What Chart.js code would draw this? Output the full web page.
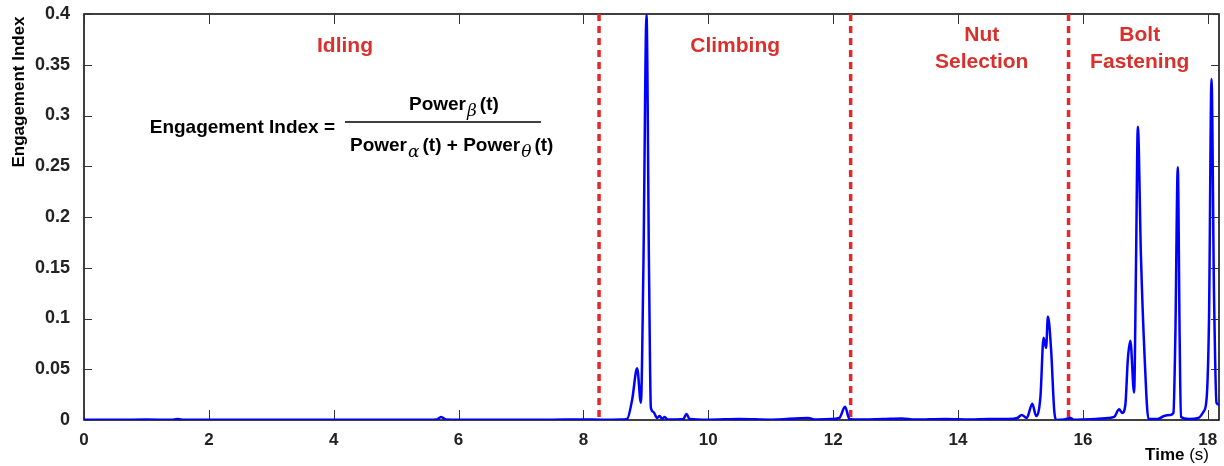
<!DOCTYPE html>
<html>
<head>
<meta charset="utf-8">
<script src="https://cdn.jsdelivr.net/npm/chart.js@4"></script>
<style>
  html, body { margin: 0; padding: 0; background: #fff; }
  #wrap { width: 1224px; height: 466px; }
</style>
</head>
<body>
<div id="wrap"><canvas id="eng"></canvas></div>
<script>
// time (s) and engagement index
const timeValues = [
  0, 0.5, 1.0, 1.4, 1.5, 1.6, 2.0, 2.5, 3.0, 3.5, 4.0, 4.5, 5.0, 5.5, 5.65, 5.72, 5.8, 6.0, 6.5, 7.0, 7.5, 8.0, 8.3, 8.6,
  8.7, 8.78, 8.86, 8.92, 8.96, 9.01, 9.05, 9.08, 9.12, 9.18, 9.22, 9.26, 9.3, 9.35, 9.6, 9.65, 9.7, 10.0, 10.5,
  11.0, 11.6, 11.7, 12.0, 12.1, 12.19, 12.26, 12.4, 12.8, 13.1, 13.3, 13.8, 14.2, 14.5, 14.8, 14.95, 15.02, 15.1,
  15.19, 15.25, 15.32, 15.37, 15.41, 15.44, 15.49, 15.54, 15.57, 15.7, 15.8, 15.85, 16.0, 16.2, 16.4, 16.5,
  16.58, 16.63, 16.68, 16.72, 16.76, 16.82, 16.85, 16.88, 16.93, 16.99, 17.05, 17.2, 17.3, 17.4, 17.45, 17.48,
  17.52, 17.55, 17.57, 17.7, 17.85, 17.93, 17.98, 18.02, 18.06, 18.10, 18.14, 18.18
];
const engagementValues = [
  0.0003, 0.0002, 0.0004, 0.0002, 0.001, 0.0002, 0.0003, 0.0002, 0.0003, 0.0002, 0.0003, 0.0002, 0.0003, 0.0002, 0.0005, 0.003, 0.0004, 0.0002, 0.0003, 0.0002, 0.0003, 0.0005, 0.0003, 0.0004,
  0.001, 0.02, 0.051, 0.017, 0.15, 0.399, 0.15, 0.012, 0.008, 0.002, 0.004, 0.001, 0.003, 0.0005, 0.001, 0.006, 0.001, 0.0003, 0.001,
  0.0003, 0.002, 0.0005, 0.001, 0.002, 0.013, 0.001, 0.0004, 0.001, 0.0015, 0.0004, 0.001, 0.0005, 0.001, 0.001, 0.002, 0.005, 0.002,
  0.016, 0.004, 0.023, 0.081, 0.071, 0.102, 0.07, 0.01, 0.0, 0.0005, 0.002, 0.0003, 0.0005, 0.001, 0.002, 0.003,
  0.0105, 0.007, 0.015, 0.06, 0.078, 0.027, 0.15, 0.289, 0.161, 0.06, 0.001, 0.001, 0.004, 0.005, 0.007, 0.08,
  0.249, 0.08, 0.003, 0.001, 0.002, 0.008, 0.02, 0.1, 0.336, 0.125, 0.017, 0.015
];
const xTickValues = [0, 2, 4, 6, 8, 10, 12, 14, 16, 18];
const yTickValues = [0, 0.05, 0.1, 0.15, 0.2, 0.25, 0.3, 0.35, 0.4];
const phaseBoundaries = [8.25, 12.28, 15.77];
const phaseNames = [['Idling'], ['Climbing'], ['Nut', 'Selection'], ['Bolt', 'Fastening']];
const phaseCenters = [4.18, 10.43, 14.38, 16.91];

const RED = '#d9302c';
const FONT = '"Liberation Sans", Arial, Helvetica, sans-serif';

const framePlugin = {
  id: 'frame',
  beforeDatasetsDraw(chart) {
    const { ctx, chartArea: a, scales } = chart;
    ctx.save();
    ctx.strokeStyle = '#000';
    ctx.lineWidth = 1.5;
    ctx.strokeRect(a.left, a.top, a.right - a.left, a.bottom - a.top);
    ctx.strokeStyle = '#333';
    ctx.lineWidth = 1;
    xTickValues.forEach((v) => {
      const px = Math.round(scales.x.getPixelForValue(v)) + 0.5;
      ctx.beginPath();
      ctx.moveTo(px, a.bottom); ctx.lineTo(px, a.bottom - 10);
      ctx.moveTo(px, a.top); ctx.lineTo(px, a.top + 10);
      ctx.stroke();
    });
    yTickValues.forEach((v) => {
      const py = Math.round(scales.y.getPixelForValue(v)) + 0.5;
      ctx.beginPath();
      ctx.moveTo(a.left, py); ctx.lineTo(a.left + 8, py);
      ctx.moveTo(a.right, py); ctx.lineTo(a.right - 8, py);
      ctx.stroke();
    });
    // phase boundaries
    ctx.strokeStyle = '#e8262c';
    ctx.lineWidth = 3.5;
    ctx.setLineDash([7, 5]);
    phaseBoundaries.forEach((v) => {
      const px = scales.x.getPixelForValue(v);
      ctx.beginPath();
      ctx.moveTo(px, a.top);
      ctx.lineTo(px, a.bottom);
      ctx.stroke();
    });
    ctx.restore();
  },
  afterDraw(chart) {
    const { ctx, chartArea: a, scales } = chart;
    ctx.save();
    // phase labels
    ctx.fillStyle = RED;
    ctx.font = 'bold 21px ' + FONT;
    ctx.textAlign = 'center';
    ctx.textBaseline = 'middle';
    phaseNames.forEach((lines, i) => {
      const px = scales.x.getPixelForValue(phaseCenters[i]);
      if (lines.length === 1) {
        ctx.fillText(lines[0], px, 46);
      } else {
        ctx.fillText(lines[0], px, 35);
        ctx.fillText(lines[1], px, 62);
      }
    });

    // y axis title
    ctx.fillStyle = '#000';
    ctx.save();
    ctx.translate(19, 92);
    ctx.rotate(-Math.PI / 2);
    ctx.font = 'bold 17px ' + FONT;
    ctx.fillText('Engagement Index', 0, 0);
    ctx.restore();

    // formula
    ctx.textBaseline = 'alphabetic';
    const bold = 'bold 19px ' + FONT;
    const sub = 'italic 17px "DejaVu Serif", serif';
    ctx.font = bold;
    ctx.textAlign = 'right';
    ctx.fillText('Engagement Index =', 335, 133);
    ctx.textAlign = 'left';
    ctx.strokeStyle = '#000';
    ctx.lineWidth = 1.5;
    ctx.beginPath();
    ctx.moveTo(345, 122);
    ctx.lineTo(541, 122);
    ctx.stroke();

    const drawPower = (x, y, greek) => {
      ctx.font = bold;
      ctx.fillText('Power', x, y);
      x += ctx.measureText('Power').width + 1;
      ctx.font = sub;
      ctx.fillText(greek, x, y + 6);
      x += ctx.measureText(greek).width + 3;
      ctx.font = bold;
      ctx.fillText('(t)', x, y);
      return x + ctx.measureText('(t)').width;
    };
    drawPower(409, 110, 'β');
    let x = drawPower(350, 151, 'α');
    ctx.font = bold;
    ctx.fillText(' + ', x, 151);
    x += ctx.measureText(' + ').width;
    drawPower(x, 151, 'θ');

    // x axis title
    ctx.textAlign = 'left';
    ctx.font = 'bold 17px ' + FONT;
    const tw = ctx.measureText('Time ').width;
    ctx.font = '17px ' + FONT;
    const sw = ctx.measureText('(s)').width;
    const sx = a.right - tw - sw - 10;
    ctx.font = 'bold 17px ' + FONT;
    ctx.fillText('Time ', sx, 460);
    ctx.font = '17px ' + FONT;
    ctx.fillText('(s)', sx + tw, 460);
    ctx.restore();
  }
};

new Chart(document.getElementById('eng'), {
  type: 'line',
  data: {
    datasets: [{
      label: 'Engagement Index',
      data: timeValues.map((t, i) => ({ x: t, y: engagementValues[i] })),
      borderColor: '#0000ff',
      borderWidth: 2.5,
      pointRadius: 0,
      fill: false,
      cubicInterpolationMode: 'monotone'
    }]
  },
  options: {
    responsive: true,
    maintainAspectRatio: false,
    animation: false,
    layout: { padding: { left: 0, top: 14, right: 5, bottom: 0 } },
    plugins: { legend: { display: false }, tooltip: { enabled: false } },
    scales: {
      x: {
        type: 'linear',
        min: 0,
        max: 18.18,
        afterBuildTicks: (s) => { s.ticks = xTickValues.map((v) => ({ value: v })); },
        afterFit: (s) => { s.height = 46; s.paddingLeft = 0; s.paddingRight = 0; },
        grid: { display: false },
        border: { display: false },
        ticks: {
          color: '#222',
          font: { family: FONT, size: 17, weight: 'bold' },
          padding: 2,
          maxRotation: 0
        }
      },
      y: {
        min: 0,
        max: 0.4,
        afterBuildTicks: (s) => { s.ticks = yTickValues.map((v) => ({ value: v })); },
        afterFit: (s) => { s.width = 84; s.paddingTop = 0; s.paddingBottom = 0; },
        grid: { display: false },
        border: { display: false },
        ticks: {
          color: '#222',
          font: { family: FONT, size: 18, weight: 'bold' },
          padding: 6,
          callback: (v) => String(Math.round(v * 100) / 100)
        }
      }
    }
  },
  plugins: [framePlugin]
});
</script>
</body>
</html>
